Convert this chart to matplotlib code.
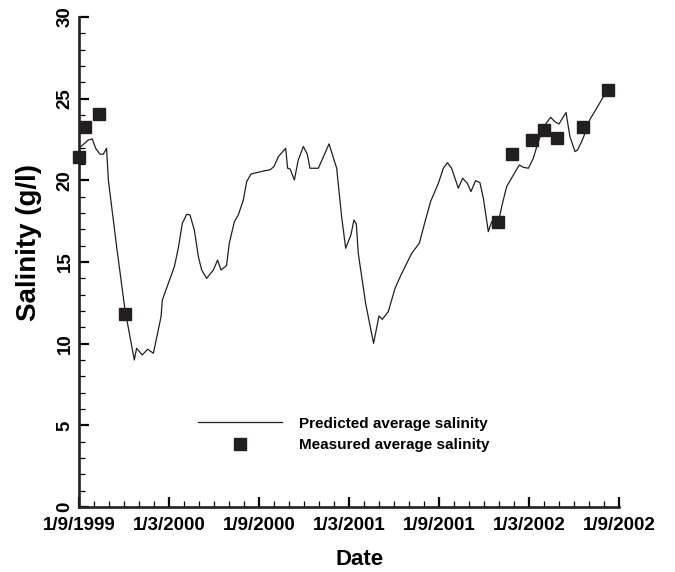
import matplotlib
matplotlib.use('Agg')
import matplotlib.pyplot as plt
from matplotlib.lines import Line2D
from matplotlib.ticker import MultipleLocator

plt.rcParams['font.family'] = ['Liberation Sans', 'DejaVu Sans']
plt.rcParams['font.weight'] = 'bold'

# months counted from 1/9/1999
pred_month = [0.13, 0.62, 0.89, 1.11, 1.40, 1.62, 1.84, 1.96, 2.51, 3.07,
              3.40, 3.69, 3.84, 4.22, 4.58, 4.96, 5.47, 5.56, 5.96, 6.36,
              6.62, 6.89, 7.18, 7.40, 7.69, 7.96, 8.18, 8.51, 8.96, 9.24,
              9.47, 9.84, 10.02, 10.36, 10.62, 10.96, 11.18, 11.47, 12.40, 12.73,
              13.00, 13.29, 13.78, 13.91, 14.07, 14.36, 14.62, 14.96, 15.22, 15.40,
              15.96, 16.67, 17.18, 17.51, 17.78, 18.13, 18.33, 18.49, 18.62, 19.11,
              19.64, 20.00, 20.22, 20.62, 21.07, 21.47, 22.18, 22.69, 23.07, 23.44,
              23.96, 24.29, 24.56, 24.84, 25.29, 25.58, 25.89, 26.13, 26.44, 26.73,
              26.96, 27.29, 27.51, 27.96, 28.18, 28.51, 28.96, 29.36, 29.62, 29.96,
              30.29, 30.62, 31.07, 31.44, 31.73, 32.00, 32.47, 32.73, 33.07, 33.24,
              33.51, 33.78, 34.07, 34.51, 34.96, 35.29]
pred_salinity = [22.07, 22.47, 22.53, 21.96, 21.60, 21.60, 21.96, 20.00, 15.94, 12.06,
                 10.43, 9.00, 9.72, 9.31, 9.66, 9.41, 11.65, 12.68, 13.70, 14.72,
                 15.84, 17.37, 17.92, 17.88, 16.96, 15.33, 14.51, 14.00, 14.51, 15.12,
                 14.51, 14.78, 16.15, 17.47, 17.88, 18.80, 19.92, 20.39, 20.59, 20.64,
                 20.84, 21.45, 21.96, 20.74, 20.70, 20.02, 21.25, 22.07, 21.60, 20.74,
                 20.74, 22.23, 20.74, 17.78, 15.84, 16.66, 17.57, 17.33, 15.53, 12.47,
                 10.02, 11.70, 11.49, 11.96, 13.39, 14.21, 15.53, 16.15, 17.47, 18.70,
                 19.82, 20.74, 21.08, 20.74, 19.52, 20.13, 19.82, 19.31, 19.98, 19.86,
                 18.90, 16.86, 17.47, 17.41, 18.39, 19.61, 20.33, 20.94, 20.80, 20.74,
                 21.35, 22.37, 23.39, 23.86, 23.59, 23.45, 24.15, 22.68, 21.76, 21.86,
                 22.37, 22.98, 23.74, 24.41, 25.12, 25.54]

meas_month = [0.02, 0.42, 1.36, 3.09, 27.96, 28.89, 30.22, 31.02, 31.89, 33.62, 35.29]
meas_salinity = [21.45, 23.29, 24.04, 11.80, 17.43, 21.60, 22.45, 23.09, 22.58, 23.29, 25.51]

tick_month = [0, 6, 12, 18, 24, 30, 36]
tick_labels = ['1/9/1999', '1/3/2000', '1/9/2000', '1/3/2001', '1/9/2001', '1/3/2002', '1/9/2002']

ink = '#231f20'

fig = plt.figure(figsize=(6.75, 5.72), dpi=100)
ax = fig.add_axes([0.117, 0.1136, 0.8, 0.8567])

ax.plot(pred_month, pred_salinity, color=ink, lw=0.9)
ax.plot(meas_month, meas_salinity, ls='none', marker='s', ms=9.3, color=ink, clip_on=False)

ax.set_xlim(0, 36)
ax.set_ylim(0, 30)
ax.set_xticks(tick_month)
ax.set_xticklabels(tick_labels)
ax.xaxis.set_minor_locator(MultipleLocator(1))
ax.yaxis.set_major_locator(MultipleLocator(5))
ax.yaxis.set_minor_locator(MultipleLocator(1))
for lab in ax.get_yticklabels():
    lab.set_rotation(90)
    lab.set_va('center')

ax.tick_params(which='major', direction='in', length=7, width=1.6, labelsize=13.5)
ax.tick_params(which='minor', direction='in', length=4, width=0.9)
ax.tick_params(axis='x', pad=7)
ax.tick_params(axis='y', pad=4)

for side in ['top', 'right']:
    ax.spines[side].set_visible(False)
for side in ['left', 'bottom']:
    ax.spines[side].set_linewidth(1.9)
    ax.spines[side].set_color(ink)

ax.set_xlabel('Date', fontsize=16, fontweight='bold')
ax.set_ylabel('Salinity (g/l)', fontsize=20, fontweight='bold')
ax.xaxis.set_label_coords(0.52, -0.085)
ax.yaxis.set_label_coords(-0.068, 0.54)

handles = [Line2D([], [], color=ink, lw=0.9),
           Line2D([], [], ls='none', marker='s', ms=9.3, color=ink)]
ax.legend(handles, ['Predicted average salinity', 'Measured average salinity'],
          loc='center left', bbox_to_anchor=(0.22, 0.148), frameon=False,
          prop={'size': 11, 'weight': 'bold'}, borderpad=0, borderaxespad=0,
          handlelength=5.5, handletextpad=1.1, labelspacing=0.5, numpoints=1)

fig.savefig('out.png', dpi=100)
